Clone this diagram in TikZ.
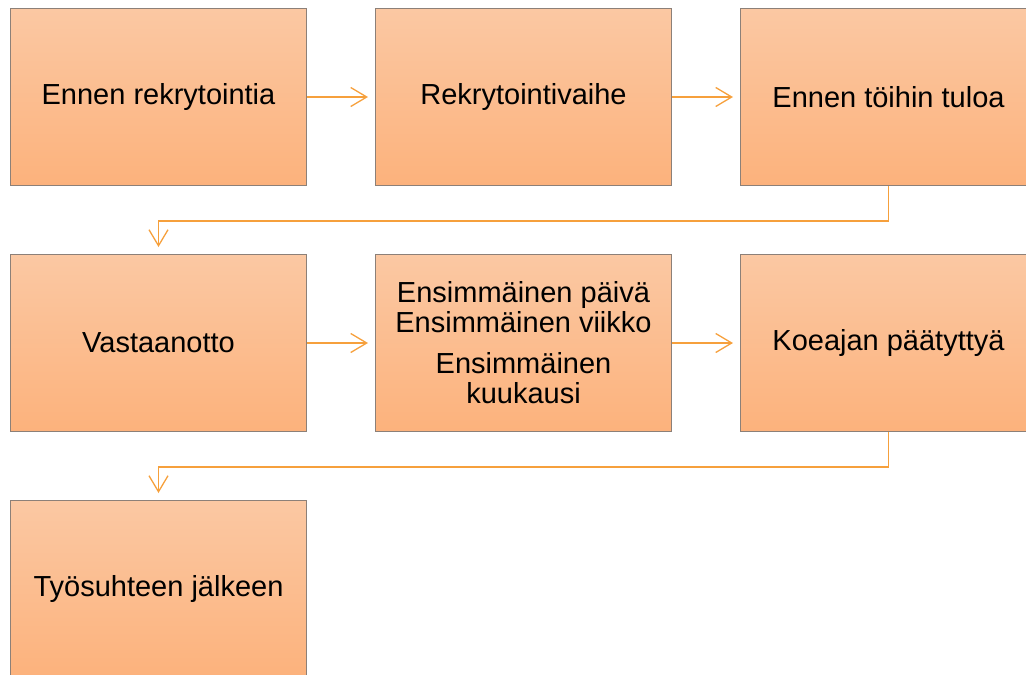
\documentclass[tikz,border=0pt]{standalone}
\usepackage{fontspec}
\setmainfont{Liberation Sans}
\usetikzlibrary{positioning}
\usetikzlibrary{arrows.meta}
\definecolor{peachtop}{RGB}{251,200,163}
\definecolor{peachbot}{RGB}{252,178,124}
\definecolor{boxline}{RGB}{140,128,120}
\definecolor{flow}{RGB}{246,160,60}
\tikzset{phase/.style={rectangle, top color=peachtop, bottom color=peachbot,
draw=boxline, line width=1pt, minimum width=296pt, minimum height=177pt,
inner sep=0pt, align=center, font=\fontsize{29}{30}\selectfont},
link/.style={->, draw=flow, line width=1.3pt, shorten >=7pt},
>={Straight Barb[length=16pt,width=19pt]}}
\begin{document}
\begin{tikzpicture}[x=1pt,y=1pt,node distance=68pt]
  \clip (0,0) rectangle (1026,-675);
  \node (before) [phase] at (158.5,-97) {Ennen rekrytointia};
  \node (recruit) [phase,right=of before] {Rekrytointivaihe};
  \node (prestart) [phase,right=of recruit] {Ennen töihin tuloa};
  \node (welcome) [phase,below=of before] {Vastaanotto};
  \node (first) [phase,right=of welcome] {Ensimmäinen päivä\\Ensimmäinen viikko\\[11pt]Ensimmäinen\\kuukausi};
  \node (trial) [phase,right=of first] {Koeajan päätyttyä};
  \node (after) [phase,below=of welcome] {Työsuhteen jälkeen};
  \draw [link] (before) -- (recruit);
  \draw [link] (recruit) -- (prestart);
  \draw [link] (prestart.south) -- ++(0,-35) -| (welcome.north);
  \draw [link] (welcome) -- (first);
  \draw [link] (first) -- (trial);
  \draw [link] (trial.south) -- ++(0,-35) -| (after.north);
\end{tikzpicture}
\end{document}
